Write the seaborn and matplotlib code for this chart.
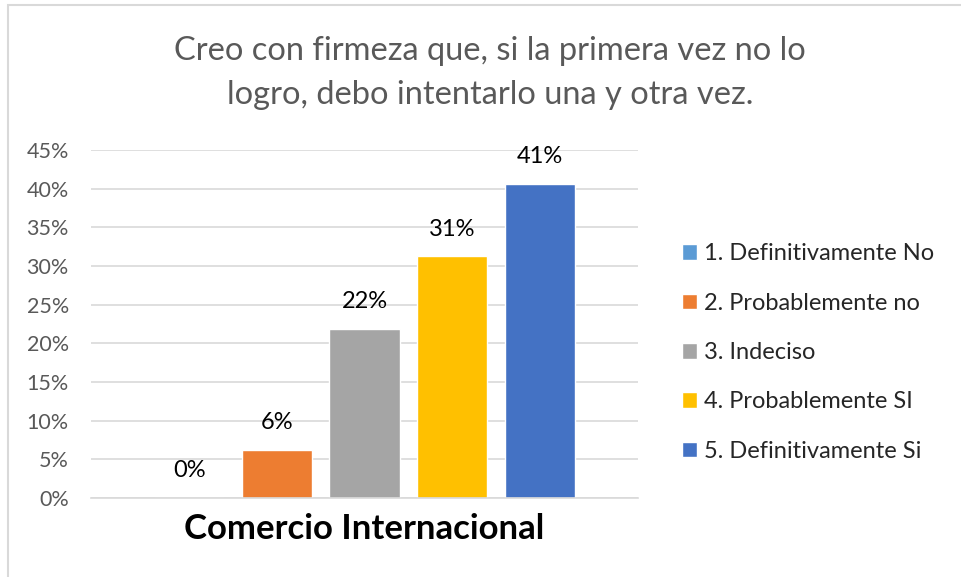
import pandas as pd
import matplotlib.pyplot as plt
import matplotlib.patches as patches
import seaborn as sns

# data (multiples of 1/32)
grupo = ["Comercio Internacional"]
respuestas = [
    "1. Definitivamente No",
    "2. Probablemente no",
    "3. Indeciso",
    "4. Probablemente SI",
    "5. Definitivamente Si",
]
porcentajes = [0.0, 0.0625, 0.21875, 0.3125, 0.40625]
colores = ["#5B9BD5", "#ED7D31", "#A5A5A5", "#FFC000", "#4472C4"]
yticks = [0, 0.05, 0.10, 0.15, 0.20, 0.25, 0.30, 0.35, 0.40, 0.45]

df = pd.DataFrame({
    "grupo": grupo * len(respuestas),
    "respuesta": respuestas,
    "pct": porcentajes,
})

sns.set_style("white")
plt.rcParams["font.family"] = ["Lato", "DejaVu Sans"]

gris = "#595959"
linea = "#D9D9D9"
W, H = 961, 577

fig = plt.figure(figsize=(9.61, 5.77), dpi=100)
# light border of the chart area (only the top-left part is visible)
fig.add_artist(patches.Rectangle((8 / W, -0.1), 1.2, 1.1 - 5 / H,
                                 transform=fig.transFigure, fill=False,
                                 edgecolor=linea, linewidth=1.5))

ax = fig.add_axes([91 / W, 1 - 498 / H, (638 - 91) / W, (498 - 150) / H])

sns.barplot(data=df, x="grupo", y="pct", hue="respuesta", palette=colores,
            hue_order=respuestas, gap=0.2, ax=ax, saturation=1)

for cont in ax.containers:
    ax.bar_label(cont, labels=[f"{v:.0%}" for v in cont.datavalues],
                 padding=12, fontsize=17, color="black")

ax.set_ylim(0, 0.45)
ax.set_yticks(yticks)
ax.set_yticklabels([f"{v:.0%}" for v in yticks], fontsize=15.5, color=gris)
ax.yaxis.grid(True, color=linea, linewidth=1.2)
ax.set_axisbelow(True)
for s in ["top", "right", "left"]:
    ax.spines[s].set_visible(False)
ax.spines["bottom"].set_color(linea)
ax.spines["bottom"].set_linewidth(1.2)
ax.tick_params(axis="both", length=0)
ax.tick_params(axis="x", pad=11)
ax.tick_params(axis="y", pad=16)
ax.set_xticks([0])
ax.set_xticklabels(grupo, fontsize=25, fontweight="bold", color="black")
ax.set_xlabel("")
ax.set_ylabel("")

ax.legend(loc="center left", bbox_to_anchor=(682 / W, 1 - 352.5 / H),
          bbox_transform=fig.transFigure, frameon=False, borderpad=0,
          borderaxespad=0, fontsize=17, handlelength=0.64, handleheight=0.64,
          handletextpad=0.3, labelspacing=1.2)

fig.text(0.51, 1 - 73 / H,
         "Creo con firmeza que, si la primera vez no lo\nlogro, debo intentarlo una y otra vez.",
         ha="center", va="center", fontsize=23.5, color=gris, linespacing=1.55)

fig.savefig("out.png", dpi=100)
